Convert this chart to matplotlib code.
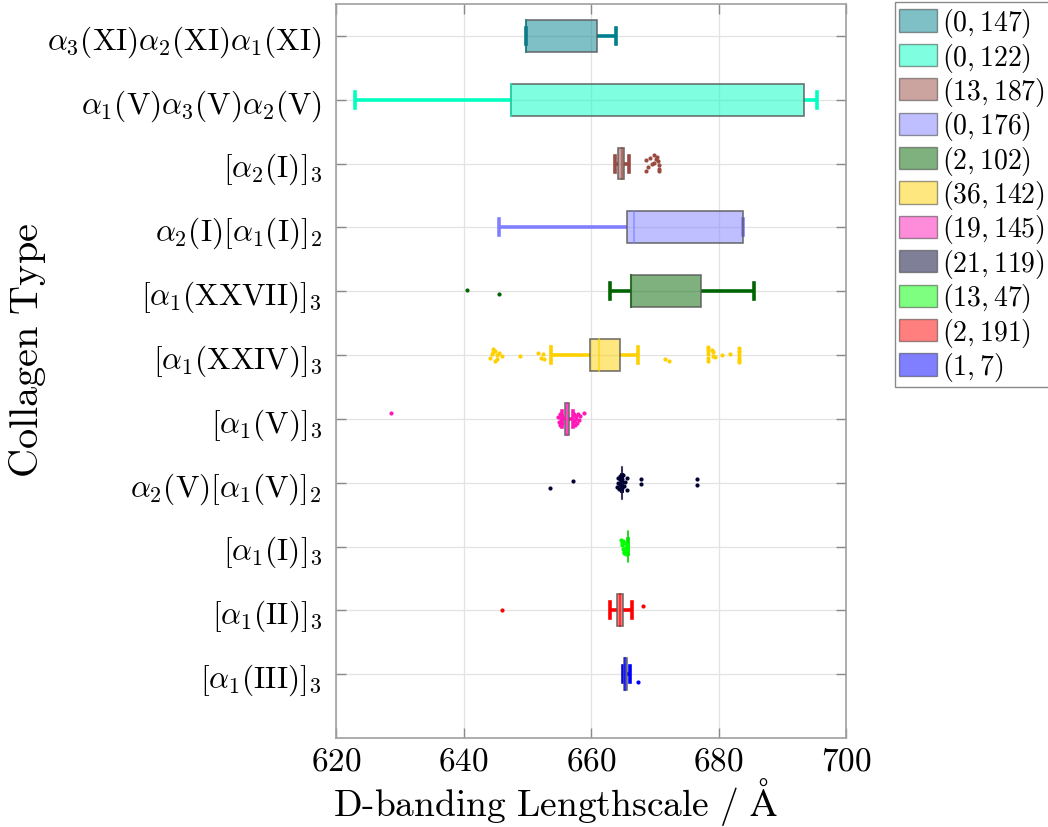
import matplotlib
matplotlib.use("Agg")
import matplotlib.pyplot as plt
from matplotlib.patches import Patch

plt.rcParams['mathtext.fontset'] = 'cm'
plt.rcParams['font.family'] = 'serif'
plt.rcParams['font.serif'] = ['cmr10', 'DejaVu Serif']
plt.rcParams['axes.formatter.use_mathtext'] = True

# collagen types, listed top to bottom
types = [r'$\alpha_3(\mathrm{XI})\alpha_2(\mathrm{XI})\alpha_1(\mathrm{XI})$',
         r'$\alpha_1(\mathrm{V})\alpha_3(\mathrm{V})\alpha_2(\mathrm{V})$',
         r'$[\alpha_2(\mathrm{I})]_3$',
         r'$\alpha_2(\mathrm{I})[\alpha_1(\mathrm{I})]_2$',
         r'$[\alpha_1(\mathrm{XXVII})]_3$',
         r'$[\alpha_1(\mathrm{XXIV})]_3$',
         r'$[\alpha_1(\mathrm{V})]_3$',
         r'$\alpha_2(\mathrm{V})[\alpha_1(\mathrm{V})]_2$',
         r'$[\alpha_1(\mathrm{I})]_3$',
         r'$[\alpha_1(\mathrm{II})]_3$',
         r'$[\alpha_1(\mathrm{III})]_3$']

# box statistics (Angstrom)
q1 = [649.8, 647.5, 664.3, 665.6, 666.2, 659.9, 655.9, 664.9, 665.8, 664.1, 665.1]
med = [649.8, 647.5, 664.8, 666.8, 666.2, 661.2, 656.3, 664.9, 665.8, 664.6, 665.4]
q3 = [660.9, 693.4, 665.2, 683.8, 677.2, 664.5, 656.6, 664.9, 665.8, 665.0, 665.7]
whislo = [649.8, 623.0, 663.8, 645.6, 663.0, 653.7, 655.5, 664.9, 665.8, 663.0, 665.0]
whishi = [663.9, 695.4, 666.0, 683.9, 685.6, 667.3, 657.2, 664.9, 665.8, 666.4, 666.1]
totals = [147, 122, 187, 176, 102, 142, 145, 119, 47, 191, 7]

# outliers and their vertical jitter
fliers = [
    [],
    [],
    [668.7, 668.7, 669.2, 669.8, 669.9, 670.5, 670.6, 670.6, 670.4, 669.0, 670.2, 670.7, 669.6],
    [],
    [640.6, 645.6],
    [644.2, 644.4, 644.6, 644.7, 644.9, 645.0, 645.2, 645.2, 645.5, 646.1, 648.9, 651.7,
     652.1, 652.4, 652.6, 671.6, 672.3, 678.3, 678.3, 678.3, 678.3, 678.3, 678.3, 679.0,
     679.1, 679.1, 679.5, 680.6, 681.8, 683.2, 683.2, 683.2, 683.2, 683.2, 683.2, 683.2],
    [628.6, 654.8, 655.0, 655.1, 655.2, 655.3, 655.4, 655.5, 655.6, 657.3, 657.4, 657.5,
     657.6, 657.7, 657.8, 658.0, 658.1, 658.2, 658.9],
    [653.6, 657.1, 664.1, 664.2, 664.3, 664.4, 664.5, 664.5, 664.6, 664.7, 664.8, 664.9,
     665.0, 665.2, 665.4, 665.6, 665.7, 667.9, 667.9, 676.6, 676.6],
    [664.7, 664.8, 664.9, 665.0, 665.0, 665.1, 665.2, 665.3, 665.4, 665.5, 665.6, 665.7, 665.7],
    [646.1, 668.2],
    [667.4],
]
jitter = [
    [],
    [],
    [0.06, -0.11, 0.09, 0.01, 0.13, 0.04, -0.09, -0.03, 0.10, -0.06, 0.07, -0.12, 0.00],
    [],
    [0.02, -0.04],
    [-0.04, 0.02, 0.05, 0.10, -0.10, 0.06, 0.00, -0.06, 0.03, -0.01, -0.01, 0.03, -0.05,
     0.01, -0.06, -0.07, -0.09, 0.10, 0.06, 0.02, -0.04, -0.09, 0.13, 0.08, -0.01, 0.04,
     -0.03, 0.00, 0.02, 0.11, 0.07, 0.04, 0.00, -0.04, -0.08, -0.11],
    [0.09, 0.03, -0.05, 0.08, -0.10, 0.00, 0.05, -0.07, 0.02, -0.03, 0.08, -0.09, 0.04,
     0.00, -0.06, 0.07, -0.02, 0.05, 0.09],
    [-0.09, 0.02, -0.06, 0.08, 0.00, -0.10, 0.05, 0.10, -0.03, 0.03, -0.08, 0.06, 0.12,
     -0.05, 0.01, 0.07, -0.11, 0.05, -0.02, 0.05, -0.03],
    [0.10, 0.06, 0.02, 0.09, -0.04, -0.10, -0.08, 0.05, -0.02, -0.11, -0.06, 0.00, 0.03],
    [0.00, 0.07],
    [-0.12],
]

line_cols = ['#00808f', '#00ffc0', '#9a4a40', '#8080ff', '#006400', '#ffd000',
             '#ff1ab8', '#000033', '#00ff00', '#ff0000', '#0000ff']

fig = plt.figure(figsize=(10.48, 8.28), dpi=100)
ax = fig.add_axes([0.3206, 0.1075, 0.4867, 0.8865])

n = len(types)
pos = list(range(n, 0, -1))
handles = []
for i in range(n):
    y = pos[i]
    c = line_cols[i]
    # whiskers and caps
    ax.plot([whislo[i], q1[i]], [y, y], color=c, lw=2.6, solid_capstyle='butt', zorder=2)
    ax.plot([q3[i], whishi[i]], [y, y], color=c, lw=2.6, solid_capstyle='butt', zorder=2)
    ax.plot([whislo[i]] * 2, [y - 0.125, y + 0.125], color=c, lw=2.6, zorder=2)
    ax.plot([whishi[i]] * 2, [y - 0.125, y + 0.125], color=c, lw=2.6, zorder=2)
    # box
    ax.barh(y, q3[i] - q1[i], left=q1[i], height=0.5, color=c, alpha=0.5,
            edgecolor='none', zorder=3)
    ax.barh(y, q3[i] - q1[i], left=q1[i], height=0.5, facecolor='none',
            edgecolor='#5a5a5a', lw=1.2, alpha=0.85, zorder=4)
    ax.plot([med[i]] * 2, [y - 0.25, y + 0.25], color=c, lw=1.5, alpha=0.6, zorder=4)
    # outliers
    if fliers[i]:
        ax.plot(fliers[i], [y + j for j in jitter[i]], 'o', color=c, ms=3.0,
                mec='none', zorder=5)
    handles.append(Patch(facecolor=c, alpha=0.5, edgecolor='#333333', lw=1.0,
                         label=r'$(%d,%d)$' % (len(fliers[i]), totals[i])))

ax.set_xlim(620, 700)
ax.set_ylim(0, n + 0.5)
ax.set_xticks([620, 640, 660, 680, 700])
ax.set_xticklabels([r'$%d$' % v for v in [620, 640, 660, 680, 700]])
ax.set_yticks(pos)
ax.set_yticklabels(types)
ax.tick_params(axis='both', direction='in', length=7, width=1, color='#8a8a8a',
               top=True, right=True, pad=10)
ax.tick_params(axis='y', labelsize=22.5)
ax.tick_params(axis='x', labelsize=24, pad=6)
for s in ax.spines.values():
    s.set_color('#a0a0a0')
    s.set_linewidth(1.2)
ax.grid(True, color='#e3e3e3', lw=0.9)
ax.set_axisbelow(True)

ax.set_xlabel(r'$\mathrm{D\text{-}banding\ Lengthscale\ /\ \AA}$', fontsize=27)
ax.xaxis.set_label_coords(0.43, -0.05)
ax.set_ylabel(r'$\mathrm{Collagen\ Type}$', fontsize=29)
ax.yaxis.set_label_coords(-0.565, 0.53)

leg = fig.legend(handles=handles, loc='upper left', bbox_to_anchor=(895 / 1048, 1 - 3 / 828),
                 bbox_transform=fig.transFigure, borderaxespad=0, fontsize=20,
                 fancybox=False, edgecolor='#8a8a8a', framealpha=1,
                 handlelength=1.35, handleheight=0.85, handletextpad=0.2,
                 labelspacing=0.05, borderpad=0.15)
leg.get_frame().set_linewidth(1.0)

fig.savefig('out.png', dpi=100)
